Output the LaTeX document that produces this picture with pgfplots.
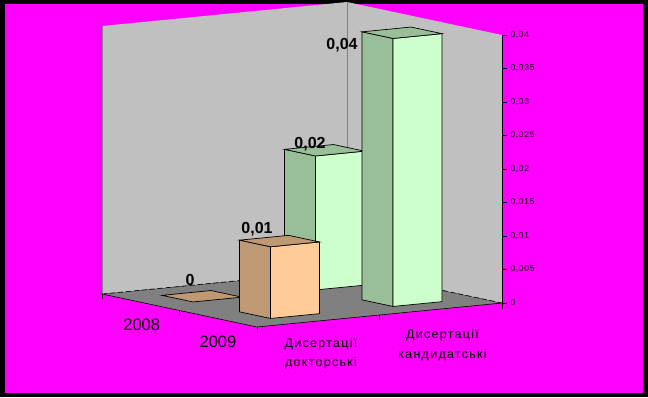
\documentclass[border=0pt]{standalone}
\usepackage{fontspec}
\setmainfont{Liberation Sans}
\usepackage{pgfplots}
\pgfplotsset{compat=1.18}
\definecolor{bg}{HTML}{FF00FF}
\definecolor{wall}{HTML}{C0C0C0}
\definecolor{floorc}{HTML}{808080}
\definecolor{orL}{HTML}{FFCC99}
\definecolor{orD}{HTML}{BF9973}
\definecolor{grL}{HTML}{CCFFCC}
\definecolor{grD}{HTML}{99BF99}
\begin{document}
\begin{tikzpicture}[x=1pt,y=1pt]
\fill[black] (0,0) rectangle (648,397);
\fill[bg] (5,4) rectangle (643,393);
\begin{axis}[
  at={(257pt,70pt)}, anchor=origin,
  x={(122.5pt,12pt)}, y={(-77.5pt,16.5pt)}, z={(0pt,6700pt)},
  xmin=0,xmax=2,ymin=0,ymax=2,zmin=0,zmax=0.04,
  hide axis, clip=false,
]
% floor and walls
\addplot3[fill=floorc, draw=black, line width=0.6pt] coordinates {(0,0,0) (2,0,0) (2,2,0) (0,2,0) (0,0,0)};
\addplot3[fill=wall, draw=none] coordinates {(0,2,0) (2,2,0) (2,2,0.04) (0,2,0.04) (0,2,0)};
\addplot3[fill=wall, draw=none] coordinates {(2,2,0) (2,0,0) (2,0,0.04) (2,2,0.04) (2,2,0)};
\addplot3[floorc, line width=0.6pt] coordinates {(2,2,0) (2,2,0.04)};
\addplot3[floorc, line width=0.6pt] coordinates {(0,2,0) (0,2,0.04)};
\addplot3[black, line width=0.6pt, dash pattern=on 5pt off 3pt] coordinates {(0,2,0) (2,2,0) (2,0,0)};
% floor ticks
\draw[black, line width=0.6pt] (axis cs:0,2,0) -- ++(0,-5pt);
\draw[black, line width=0.6pt] (axis cs:0,1,0) -- ++(0,-5pt);
\draw[black, line width=0.6pt] (axis cs:0,0,0) -- ++(0,-6pt);
\draw[black, line width=0.6pt] (axis cs:1,0,0) -- ++(0,-5pt);
\draw[black, line width=0.6pt] (axis cs:2,0,0) -- ++(0,-6pt);
% ---- back row: 2008 ----
% кандидатські 2008 = 0.02
\addplot3[fill=grD, draw=black, line width=0.7pt] coordinates {(1.3,1.3,0) (1.3,1.7,0) (1.3,1.7,0.02) (1.3,1.3,0.02) (1.3,1.3,0)};
\addplot3[fill=grL, draw=black, line width=0.7pt] coordinates {(1.3,1.3,0) (1.7,1.3,0) (1.7,1.3,0.02) (1.3,1.3,0.02) (1.3,1.3,0)};
\addplot3[fill=grD, draw=black, line width=0.7pt] coordinates {(1.3,1.3,0.02) (1.7,1.3,0.02) (1.7,1.7,0.02) (1.3,1.7,0.02) (1.3,1.3,0.02)};
% докторські 2008 = 0
\addplot3[fill=orD, draw=black, line width=0.7pt] coordinates {(0.3,1.3,0) (0.7,1.3,0) (0.7,1.7,0) (0.3,1.7,0) (0.3,1.3,0)};
% ---- front row: 2009 ----
% кандидатські 2009 = 0.04
\addplot3[fill=grD, draw=black, line width=0.7pt] coordinates {(1.3,0.3,0) (1.3,0.7,0) (1.3,0.7,0.04) (1.3,0.3,0.04) (1.3,0.3,0)};
\addplot3[fill=grL, draw=black, line width=0.7pt] coordinates {(1.3,0.3,0) (1.7,0.3,0) (1.7,0.3,0.04) (1.3,0.3,0.04) (1.3,0.3,0)};
\addplot3[fill=grD, draw=black, line width=0.7pt] coordinates {(1.3,0.3,0.04) (1.7,0.3,0.04) (1.7,0.7,0.04) (1.3,0.7,0.04) (1.3,0.3,0.04)};
% докторські 2009 = 0.0107
\addplot3[fill=orD, draw=black, line width=0.7pt] coordinates {(0.3,0.3,0) (0.3,0.7,0) (0.3,0.7,0.0107) (0.3,0.3,0.0107) (0.3,0.3,0)};
\addplot3[fill=orL, draw=black, line width=0.7pt] coordinates {(0.3,0.3,0) (0.7,0.3,0) (0.7,0.3,0.0107) (0.3,0.3,0.0107) (0.3,0.3,0)};
\addplot3[fill=orD, draw=black, line width=0.7pt] coordinates {(0.3,0.3,0.0107) (0.7,0.3,0.0107) (0.7,0.7,0.0107) (0.3,0.7,0.0107) (0.3,0.3,0.0107)};
% data labels
\node[font=\fontsize{16}{18}\selectfont\bfseries, xshift=-12pt, yshift=16.2pt] at (axis cs:0.5,1.5,0) {0};
\node[font=\fontsize{16}{18}\selectfont\bfseries, xshift=-14.5pt, yshift=6.2pt] at (axis cs:1.5,1.5,0.02) {0,02};
\node[font=\fontsize{16}{18}\selectfont\bfseries, xshift=-22.5pt, yshift=12pt] at (axis cs:0.5,0.5,0.0107) {0,01};
\node[font=\fontsize{16}{18}\selectfont\bfseries, xshift=-60pt, yshift=-12.2pt] at (axis cs:1.5,0.5,0.04) {0,04};
\end{axis}
\begin{axis}[
  at={(502pt,94pt)}, anchor=origin,
  x={(1pt,0pt)}, y={(0pt,6700pt)},
  xmin=-1, xmax=0, ymin=0, ymax=0.04,
  hide x axis, axis y line*=right,
  ytick={0,0.005,0.01,0.015,0.02,0.025,0.03,0.035,0.04},
  tick align=outside, major tick length=5pt,
  tick style={black, line width=0.6pt},
  y axis line style={black, line width=0.6pt},
  yticklabel style={font=\fontsize{8.5}{9}\selectfont\addfontfeature{LetterSpace=8}},
  scaled y ticks=false,
  /pgf/number format/.cd, fixed, use comma, precision=3, assume math mode=true,
]
\addplot[draw=none] coordinates {(-1,0) (0,0.04)};
\end{axis}
\node[font=\fontsize{16.5}{18}\selectfont] at (141.7,72) {2008};
\node[font=\fontsize{16.5}{18}\selectfont] at (218,55) {2009};
\node[font=\fontsize{12.5}{19.5}\selectfont\addfontfeature{LetterSpace=10}, align=center] at (321,43) {Дисертації\\докторські};
\node[font=\fontsize{12.5}{19.5}\selectfont\addfontfeature{LetterSpace=10}, align=center] at (442.5,52) {Дисертації\\кандидатські};
\end{tikzpicture}
\end{document}
